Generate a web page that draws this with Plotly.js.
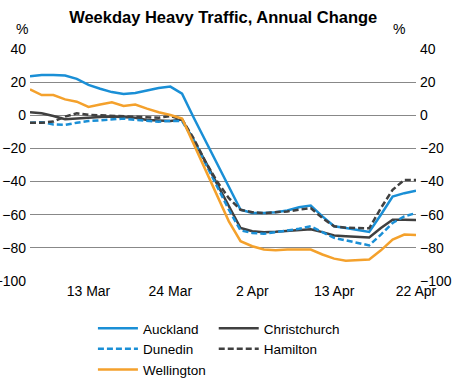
<!DOCTYPE html>
<html>
<head>
<meta charset="utf-8">
<script src="https://cdn.plot.ly/plotly-3.0.1.min.js"></script>
<style>html,body{margin:0;padding:0;background:#fff;}#chart{width:464px;height:386px;}</style>
</head>
<body>
<div id="chart"></div>
<script>
// Weekdays, 6 Mar to 22 Apr 2020
var dates = ["6 Mar","9 Mar","10 Mar","11 Mar","12 Mar","13 Mar","16 Mar","17 Mar","18 Mar","19 Mar","20 Mar","23 Mar","24 Mar","25 Mar","26 Mar","27 Mar","30 Mar","31 Mar",
             "1 Apr","2 Apr","3 Apr","6 Apr","7 Apr","8 Apr","9 Apr","10 Apr","13 Apr","14 Apr","15 Apr","16 Apr","17 Apr","20 Apr","21 Apr","22 Apr"];
var tickLabels = ["13 Mar","24 Mar","2 Apr","13 Apr","22 Apr"];

var auckland = [23.5,24.3,24.3,24.0,22.0,18.3,16.0,14.0,12.8,13.5,15.0,16.5,17.3,13.0,-1.5,-15.5,-29.5,-43.0,-57.0,-59.0,-59.0,-58.5,-57.5,-55.5,-54.5,-61.0,-67.0,-68.0,-69.0,-70.4,-60.0,-49.0,-47.0,-45.5];
var christchurch = [1.8,1.2,-0.4,-2.4,-2.0,-1.3,-1.0,-0.8,-1.2,-1.5,-2.8,-3.2,-3.4,-2.6,-15.0,-28.0,-41.5,-55.0,-68.0,-70.0,-70.6,-70.3,-69.8,-69.3,-68.8,-70.5,-72.5,-73.0,-73.3,-73.7,-68.0,-63.0,-63.0,-63.2];
var dunedin = [-4.5,-4.2,-5.5,-5.8,-4.5,-3.5,-3.0,-2.4,-2.0,-2.8,-3.5,-3.9,-3.4,-3.5,-15.0,-29.0,-43.0,-57.0,-69.5,-71.0,-71.5,-70.5,-69.5,-68.5,-67.0,-70.5,-74.0,-75.5,-77.0,-78.5,-72.0,-65.0,-61.0,-59.0];
var hamilton = [-4.5,-4.5,-3.8,-0.8,1.2,0.3,0.0,-0.3,-0.8,-1.0,-1.2,-1.5,-0.5,-2.5,-14.0,-28.0,-40.0,-50.0,-57.0,-58.5,-59.0,-58.5,-58.0,-57.0,-56.0,-62.0,-67.0,-67.8,-68.0,-68.2,-56.0,-45.0,-39.0,-39.0];
var wellington = [15.7,12.2,12.2,9.6,8.2,5.0,6.5,7.8,5.6,6.5,4.0,1.8,0.2,-2.0,-17.4,-33.0,-48.5,-64.0,-76.0,-79.0,-81.0,-81.5,-81.0,-81.0,-81.0,-84.0,-86.5,-87.8,-87.3,-87.0,-81.5,-75.0,-72.0,-72.2];

var BLUE = "#1a8fd6", DARK = "#404040", ORANGE = "#f4a12c";
var FONT = "Liberation Sans, Arial, sans-serif";

function tr(name, y, color, dash, legend) {
  return {type:"scatter", mode:"lines", name:name, x:dates, y:y, legend:legend,
          line:{color:color, width:2.5, dash:dash}, hoverinfo:"skip"};
}
var data = [
  tr("Auckland", auckland, BLUE, "solid", "legend"),
  tr("Christchurch", christchurch, DARK, "solid", "legend2"),
  tr("Dunedin", dunedin, BLUE, "6px,3px", "legend"),
  tr("Hamilton", hamilton, DARK, "6px,3px", "legend2"),
  tr("Wellington", wellington, ORANGE, "solid", "legend"),
  {type:"scatter", mode:"lines", x:dates, y:auckland, yaxis:"y2", showlegend:false, hoverinfo:"skip", line:{width:0, color:"rgba(0,0,0,0)"}}
];

var layout = {
  width:464, height:386,
  margin:{l:30, r:48, t:49, b:105, autoexpand:false},
  paper_bgcolor:"#fff", plot_bgcolor:"#fff",
  font:{family:FONT, size:14, color:"#000"},
  title:{text:"Weekday Heavy Traffic, Annual Change", font:{family:FONT, size:16.5, weight:"bold", color:"#000"},
         x:0.481, xanchor:"center", y:1-17/386, yanchor:"middle", yref:"container"},
  xaxis:{type:"category", range:[0,33], tickvals:tickLabels, ticktext:tickLabels, showgrid:false, zeroline:false, showline:false, ticks:"", tickfont:{size:14}, automargin:false},
  yaxis:{range:[-100,40], dtick:20, tick0:0, showgrid:true, gridcolor:"#888", gridwidth:1, zeroline:false, showline:false, ticks:"", tickfont:{size:14}, automargin:false, ticklabelstandoff:3},
  yaxis2:{range:[-100,40], dtick:20, tick0:0, overlaying:"y", side:"right", showgrid:false, zeroline:false, showline:false, ticks:"", tickfont:{size:14}, automargin:false, ticklabelstandoff:3},
  showlegend:true,
  legend:{x:0.163, y:-0.138, xanchor:"left", yanchor:"top", orientation:"v", itemwidth:40, tracegroupgap:0, font:{size:13.5}, bgcolor:"rgba(0,0,0,0)", traceorder:"normal"},
  legend2:{x:0.476, y:-0.138, xanchor:"left", yanchor:"top", orientation:"v", itemwidth:40, tracegroupgap:0, font:{size:13.5}, bgcolor:"rgba(0,0,0,0)", traceorder:"normal"},
  annotations:[
    {text:"%", xref:"paper", yref:"paper", x:(22-30)/386, y:(281-29)/232, xanchor:"center", yanchor:"middle", showarrow:false, font:{size:14}},
    {text:"%", xref:"paper", yref:"paper", x:(399-30)/386, y:(281-29)/232, xanchor:"center", yanchor:"middle", showarrow:false, font:{size:14}}
  ]
};
Plotly.newPlot("chart", data, layout, {displayModeBar:false, staticPlot:true});
</script>
</body>
</html>
